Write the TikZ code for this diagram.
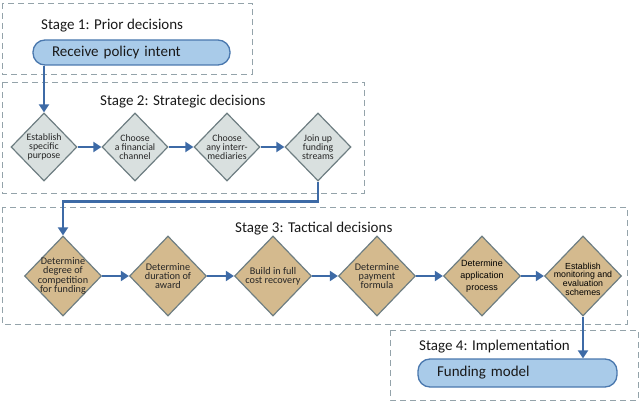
\documentclass[tikz,border=0pt]{standalone}
\usepackage{fontspec}
\setmainfont{Carlito}
\newfontfamily\arialfont{Liberation Sans}
\usetikzlibrary{arrows.meta,shapes.geometric}

\definecolor{flowblue}{HTML}{3D6AA6}
\definecolor{pillfill}{HTML}{A9CBE9}
\definecolor{pillline}{HTML}{4A78AE}
\definecolor{stratfill}{HTML}{D9E0DF}
\definecolor{tactfill}{HTML}{D4BA8E}
\definecolor{diamline}{HTML}{6E7E82}
\definecolor{boxline}{HTML}{94A3AA}
\definecolor{txtgray}{HTML}{262626}

\tikzset{
  stagebox/.style={draw=boxline, line width=0.9pt, dash pattern=on 6pt off 4pt},
  stagetitle/.style={anchor=base west, inner sep=0pt, font=\fontsize{15}{17}\selectfont, text=black!90},
  pill/.style={draw=pillline, fill=pillfill, line width=1.3pt, rounded corners=12pt,
    inner xsep=19pt, inner ysep=0pt, align=left, font=\fontsize{15}{17}\selectfont, text=black!90},
  decision/.style={diamond, draw=diamline, line width=1.2pt, inner sep=0pt},
  strat/.style={decision, fill=stratfill, minimum width=66pt, minimum height=68pt},
  tact/.style={decision, fill=tactfill, minimum width=77pt, minimum height=80pt},
  dtext/.style={align=center, inner sep=0pt, text=txtgray, font=\fontsize{9.8}{8.8}\selectfont},
  ttext/.style={dtext, font=\fontsize{10.2}{8.8}\selectfont},
  atext/.style={dtext, text=black, font=\arialfont\fontsize{9}{12}\selectfont},
  flow/.style={draw=flowblue, line width=2.6pt, -{Triangle[length=8pt,width=10pt]}},
}

\begin{document}
\begin{tikzpicture}[x=1pt,y=-1pt]
	%%%%% START %%%%%
	\useasboundingbox (0,0) rectangle (640,404);
	
	% stage frames
	\draw[stagebox] (2,3) rectangle (252,74);
	\draw[stagebox] (2,82) rectangle (364,193);
	\draw[stagebox] (2,207) rectangle (627,324);
	\draw[stagebox] (390,330) rectangle (638,400);
	
	\node[stagetitle] (st1) at (41,30) {Stage 1: Prior decisions};
	\node[stagetitle] (st2) at (100,105) {Stage 2: Strategic decisions};
	\node[stagetitle] (st3) at (235,232) {Stage 3: Tactical decisions};
	\node[stagetitle] (st4) at (419,350) {Stage 4: Implementation};
	
	\node[pill, minimum height=25pt, text width=159pt] (intent) at (131.5,52.5) {Receive policy intent};
	\node[pill, minimum height=28pt, text width=161pt] (model) at (517.5,373) {Funding model};
	
	% strategic decisions
	\node[strat, label={[dtext]center:{Establish\\specific\\purpose}}] (s1) at (44,147) {};
	\node[strat, label={[dtext]center:{Choose\\a financial\\channel}}] (s2) at (135,147) {};
	\node[strat, label={[dtext]center:{Choose\\any interr-\\mediaries}}] (s3) at (227,147) {};
	\node[strat, label={[dtext]center:{Join up\\funding\\streams}}] (s4) at (318,147) {};
	
	% tactical decisions
	\node[tact, label={[ttext]center:{Determine\\degree of\\competition\\for funding}}] (t1) at (63,276) {};
	\node[tact, label={[ttext]center:{Determine\\duration of\\award}}] (t2) at (168,276) {};
	\node[tact, label={[ttext]center:{Build in full\\cost recovery}}] (t3) at (273,276) {};
	\node[tact, label={[ttext]center:{Determine\\payment\\formula}}] (t4) at (377,276) {};
	\node[tact, label={[atext]center:{Determine\\application\\process}}] (t5) at (482,276) {};
	\node[tact, label={[atext, font=\arialfont\fontsize{8.8}{8.6}\selectfont, yshift=-3pt]center:{Establish\\monitoring and\\evaluation\\schemes}}] (t6) at (583,276) {};
	
	% connectors
	\draw[flow] (s1.north |- intent.south) -- (s1.north);
	\foreach \a/\b in {s1/s2,s2/s3,s3/s4,t1/t2,t2/t3,t3/t4,t4/t5,t5/t6}
		\draw[flow] (\a.east) -- (\b.west);
	\draw[flow] (s4.south) -- ++(0,20) -| (t1.north);
	\draw[flow] (t6.south) -- (t6.south |- model.north);
	
	%%%%% END %%%%%
\end{tikzpicture}
\end{document}
